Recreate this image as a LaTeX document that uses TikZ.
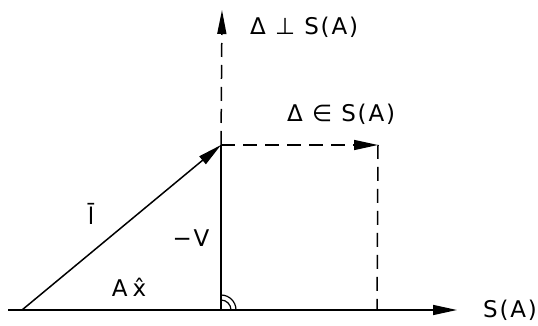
\documentclass[tikz,border=0pt]{standalone}
\usepackage{fontspec}
\setmainfont{DejaVu Sans}[LetterSpace=8]
\usetikzlibrary{arrows.meta}

\tikzset{
  vec/.style={line width=1.5pt,-{Triangle[length=24pt,width=10pt]}},
  solidline/.style={line width=1.5pt},
  dashline/.style={line width=1.5pt,dash pattern=on 14pt off 8pt},
  lab/.style={font=\fontsize{23}{26}\selectfont,inner sep=0pt}
}

\begin{document}
\begin{tikzpicture}[x=1pt,y=1pt]
  \useasboundingbox (0,0) rectangle (538,326);
  % points of the figure
  \coordinate (orig) at (8,16);
  \coordinate (start) at (22,16);
  \coordinate (foot) at (221,16);
  \coordinate (corner) at (221,181);
  \coordinate (top) at (222,316);
  \coordinate (proj) at (378,181);
  \coordinate (projfoot) at (377,16);
  \coordinate (axisend) at (457,16);
  % labels
  \node[lab] (sa) at (510,16) {S(A)};
  \node[lab,anchor=west] (perp) at (250,299) {Δ ⊥ S(A)};
  \node[lab,anchor=west] (inS) at (287,212) {Δ ∈ S(A)};
  \node[lab] (lbar) at (91,112) {\={l}};
  \node[lab] (minusv) at (191,88) {−V};
  \node[lab] (axhat) at (129,39) {A\hspace{5pt}\^{x}};
  % axis and vectors
  \draw[vec] (orig) -- (axisend);
  \draw[vec] (start) -- (corner);
  \draw[solidline] (foot) -- (corner);
  \draw[dashline,-{Triangle[length=24pt,width=9pt]}] (corner) -- (top);
  \draw[dashline,-{Triangle[length=24pt,width=10pt]}] (corner) -- (proj);
  \draw[dashline] (proj) -- (projfoot);
  % right angle mark
  \draw[line width=1.2pt] (foot) ++(10,0) arc[start angle=0,end angle=90,radius=10];
  \draw[line width=1.2pt] (foot) ++(15,0) arc[start angle=0,end angle=90,radius=15];
\end{tikzpicture}
\end{document}
